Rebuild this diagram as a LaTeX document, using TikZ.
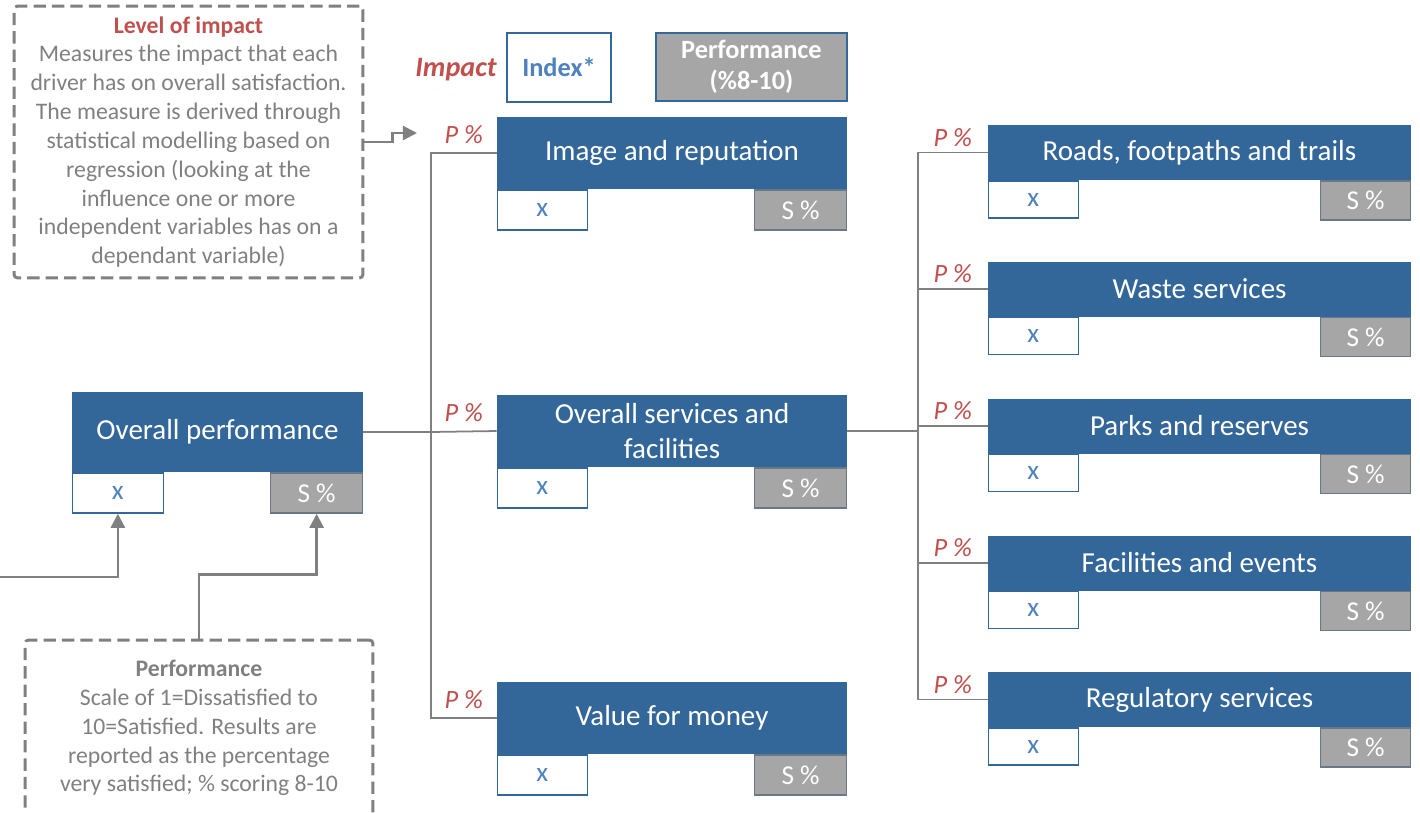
\documentclass[tikz,border=0pt]{standalone}
\usepackage{fontspec}
\setmainfont{Carlito}
\usetikzlibrary{arrows.meta,positioning}

\definecolor{mainblue}{RGB}{51,102,153}
\definecolor{idxblue}{RGB}{79,129,189}
\definecolor{perfgray}{RGB}{166,166,166}
\definecolor{notegray}{RGB}{128,128,128}
\definecolor{impactred}{RGB}{192,80,77}

\begin{document}
\begin{tikzpicture}[
    x=0.02cm, y=-0.02cm,
    mainbox/.style={rectangle, fill=mainblue, text=white, align=center, minimum width=7cm, minimum height=1.44cm, font=\fontsize{16.5}{19.8}\selectfont},
    topbox/.style={rectangle, fill=mainblue, text=white, align=center, minimum width=5.82cm, minimum height=1.6cm, font=\fontsize{16.5}{19.8}\selectfont},
    sidebox/.style={rectangle, fill=mainblue, text=white, align=center, minimum width=8.46cm, minimum height=1.1cm, font=\fontsize{16.5}{19.8}\selectfont},
    xbox/.style={rectangle, draw=mainblue, line width=0.8pt, fill=white, text=idxblue, minimum width=1.8cm, minimum height=0.8cm, font=\fontsize{15.5}{18}\selectfont},
    sbox/.style={rectangle, draw=mainblue!30!gray, line width=0.8pt, fill=perfgray, text=white, minimum width=1.84cm, minimum height=0.8cm, font=\fontsize{15.5}{18}\selectfont},
    sidex/.style={xbox, minimum height=0.74cm},
    sides/.style={sbox, minimum width=1.8cm, minimum height=0.78cm},
    note/.style={rectangle, draw=notegray, dash pattern=on 7pt off 3.5pt, line width=1.7pt, rounded corners=2pt, align=center, text=notegray, font=\fontsize{13.5}{16.4}\selectfont},
    pct/.style={text=impactred, font=\fontsize{15}{18}\selectfont\itshape, inner sep=1pt},
    link/.style={draw=notegray, line width=1pt},
    arrow/.style={-{Triangle[length=8pt,width=8pt]}, draw=notegray, line width=1.3pt}
]
\useasboundingbox (0,0) rectangle (1420,812);

% legend
\node[text=impactred, font=\fontsize{16}{19}\selectfont\bfseries\itshape] (impact) at (456,70) {Impact};
\node[rectangle, draw=mainblue, line width=0.8pt, text=idxblue, font=\fontsize{15}{18}\selectfont\bfseries, minimum width=2.08cm, minimum height=1.38cm] (index) at (559,67.5) {Index*};
\node[rectangle, draw=mainblue, line width=0.8pt, fill=perfgray, text=white, align=center, font=\fontsize{15}{18}\selectfont\bfseries, minimum width=3.82cm, minimum height=1.36cm] (perf) at (751.5,67) {Performance\\(\%8-10)};

% notes
\node[note, minimum width=6.98cm, minimum height=5.44cm] (lvlnote) at (188.5,142) {\textcolor{impactred}{\textbf{Level of impact}}\\Measures the impact that each\\driver has on overall satisfaction.\\The measure is derived through\\statistical modelling based on\\regression (looking at the\\influence one or more\\independent variables has on a\\dependant variable)};
\node[note, minimum width=6.96cm, minimum height=3.52cm] (perfnote) at (199,728) {\textbf{Performance}\\Scale of 1=Dissatisfied to\\10=Satisfied. Results are\\reported as the percentage\\very satisfied; \% scoring 8-10};

% overall
\node[topbox] (op) at (217.5,432) {Overall performance};
\node[xbox, minimum width=1.82cm, below right=0pt and 0pt of op.south west] (xop) {x};
\node[sbox, below left=0pt and 0pt of op.south east] (sop) {S \%};

% middle column
\node[mainbox] (img) at (672,153) {Image and reputation};
\node[xbox, below right=0pt and 0pt of img.south west] (ximg) {x};
\node[sbox, below left=0pt and 0pt of img.south east] (simg) {S \%};

\node[mainbox] (svc) at (672,431) {Overall services and\\facilities};
\node[xbox, below right=0pt and 0pt of svc.south west] (xsvc) {x};
\node[sbox, below left=0pt and 0pt of svc.south east] (ssvc) {S \%};

\node[mainbox] (val) at (672,718) {Value for money};
\node[xbox, below right=0pt and 0pt of val.south west] (xval) {x};
\node[sbox, below left=0pt and 0pt of val.south east] (sval) {S \%};

% right column
\node[sidebox] (roads) at (1199.5,152.5) {Roads, footpaths and trails};
\node[sidex, below right=0pt and 0pt of roads.south west] (xroads) {x};
\node[sides, below left=0pt and 0pt of roads.south east] (sroads) {S \%};

\node[sidebox] (waste) at (1199.5,289) {Waste services};
\node[sidex, below right=0pt and 0pt of waste.south west] (xwaste) {x};
\node[sides, below left=0pt and 0pt of waste.south east] (swaste) {S \%};

\node[sidebox] (parks) at (1199.5,426) {Parks and reserves};
\node[sidex, below right=0pt and 0pt of parks.south west] (xparks) {x};
\node[sides, below left=0pt and 0pt of parks.south east] (sparks) {S \%};

\node[sidebox] (events) at (1199.5,563) {Facilities and events};
\node[sidex, below right=0pt and 0pt of events.south west] (xevents) {x};
\node[sides, below left=0pt and 0pt of events.south east] (sevents) {S \%};

\node[sidebox] (reg) at (1199.5,699.5) {Regulatory services};
\node[sidex, below right=0pt and 0pt of reg.south west] (xreg) {x};
\node[sides, below left=0pt and 0pt of reg.south east] (sreg) {S \%};

% tree links
\coordinate (j1) at (431,432);
\coordinate (j2) at (918,431);
\draw[link] (op.east) -- (j1);
\draw[link] (j1) |- (img.west) node[pct, pos=0.75, above=4pt] (pimg) {P \%};
\draw[link] (j1) -- (svc.west) node[pct, midway, above=4pt] (psvc) {P \%};
\draw[link] (j1) |- (val.west) node[pct, pos=0.75, above=4pt] (pval) {P \%};

\draw[link] (svc.east) -- (j2);
\draw[link] (j2) |- (roads.west) node[pct, pos=0.75, above=2pt] (proads) {P \%};
\draw[link] (j2) |- (waste.west) node[pct, pos=0.75, above=2pt] (pwaste) {P \%};
\draw[link] (j2) |- (parks.west) node[pct, pos=0.75, above=2pt] (pparks) {P \%};
\draw[link] (j2) |- (events.west) node[pct, pos=0.75, above=2pt] (pevents) {P \%};
\draw[link] (j2) |- (reg.west) node[pct, pos=0.75, above=2pt] (preg) {P \%};

% note arrows
\coordinate (lvltip) at (417,133);
\coordinate (leftin) at (0,577);
\draw[arrow] (lvlnote.east) -- ++(28,0) |- (lvltip);
\draw[arrow] (leftin) -| (xop.south);
\draw[arrow] (perfnote.north) -- ++(0,-64) -| (sop.south);

\end{tikzpicture}
\end{document}
